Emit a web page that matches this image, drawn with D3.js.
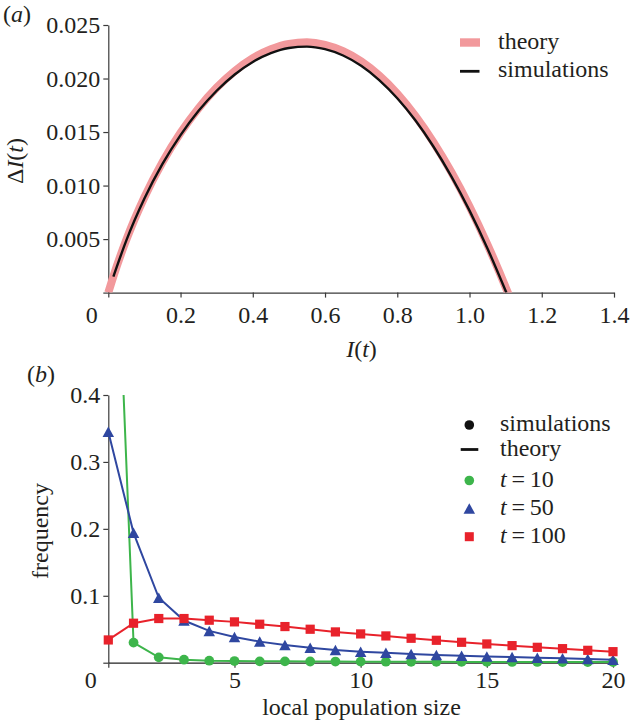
<!DOCTYPE html>
<html><head><meta charset="utf-8">
<script src="https://cdn.jsdelivr.net/npm/d3@7"></script>
<style>
body{margin:0;background:#fff}
svg{display:block}
text{font-family:"Liberation Serif","Times New Roman",serif;font-size:24px;fill:#231f20}
</style>
</head><body>
<svg id="chart" width="630" height="723"></svg>
<script>
// ---------- Panel (a) data ----------
const theoryI  = [0, 0.014, 0.05, 0.1, 0.15, 0.2, 0.25, 0.3, 0.35, 0.4, 0.45, 0.5, 0.55, 0.6, 0.65, 0.7, 0.75, 0.8, 0.85, 0.9, 0.95, 1.0, 1.05, 1.106, 1.12];
const theoryDI = [0, 0.00151, 0.00495, 0.00891, 0.01219, 0.01493, 0.01723, 0.01915, 0.02070, 0.02190, 0.02274, 0.02324, 0.02338, 0.02315, 0.02256, 0.02161, 0.02028, 0.01859, 0.01651, 0.01406, 0.01124, 0.00804, 0.00446, 0, -0.0012];
const simI  = [0.014, 0.05, 0.1, 0.15, 0.2, 0.25, 0.3, 0.35, 0.4, 0.45, 0.5, 0.55, 0.6, 0.65, 0.7, 0.75, 0.8, 0.85, 0.9, 0.95, 1.0, 1.05, 1.102];
const simDI = [0.00149, 0.00488, 0.00879, 0.01202, 0.01471, 0.01698, 0.01886, 0.02038, 0.02155, 0.02237, 0.02285, 0.02298, 0.02274, 0.02215, 0.02119, 0.01986, 0.01816, 0.01610, 0.01365, 0.01084, 0.00766, 0.00410, 0];
const aXTicks = [0, 0.2, 0.4, 0.6, 0.8, 1.0, 1.2, 1.4];
const aYTicks = [0.005, 0.010, 0.015, 0.020, 0.025];

// ---------- Panel (b) data ----------
const popSize   = [0, 1, 2, 3, 4, 5, 6, 7, 8, 9, 10, 11, 12, 13, 14, 15, 16, 17, 18, 19, 20];
const freqT10   = [0.97, 0.030, 0.008, 0.0045, 0.003, 0.0025, 0.002, 0.002, 0.0018, 0.0017, 0.0016, 0.0015, 0.0014, 0.0013, 0.0012, 0.0012, 0.0011, 0.0011, 0.001, 0.001, 0.001];
const freqT50   = [0.345, 0.194, 0.097, 0.063, 0.0475, 0.0385, 0.0315, 0.0265, 0.0225, 0.019, 0.0165, 0.0148, 0.013, 0.0115, 0.0104, 0.0094, 0.0084, 0.0074, 0.0065, 0.0056, 0.0045];
const freqT100  = [0.034, 0.059, 0.066, 0.066, 0.0635, 0.061, 0.0575, 0.054, 0.050, 0.046, 0.043, 0.040, 0.0365, 0.0335, 0.0305, 0.028, 0.0255, 0.023, 0.021, 0.0185, 0.0165];
const t10FirstSim = 1; // simulated t=10 markers start at size 1 (size 0 off-scale)
const bXTicks = [0, 5, 10, 15, 20];
const bYTicks = [0.1, 0.2, 0.3, 0.4];
const legendB = ["simulations", "theory", "10", "50", "100"];

const colPink = "#f2999c", colGreen = "#3db54b", colBlue = "#2f47a0", colRed = "#e8222b";
const axisCol = "#3a3a3a";

const svg = d3.select("#chart");

function styleAxis(g){
  g.attr("font-family", null).attr("font-size", null);
  g.select(".domain").attr("stroke", axisCol).attr("stroke-width", 1.2);
  g.selectAll(".tick line").attr("stroke", axisCol).attr("stroke-width", 1.2);
  g.selectAll(".tick text").attr("fill", "#231f20");
}

// ================= Panel (a) =================
const ax = d3.scaleLinear().domain([0, 1.4]).range([108.3, 614]);
const ay = d3.scaleLinear().domain([0, 0.025]).range([292.6, 25]);

svg.append("defs").append("clipPath").attr("id", "clipA")
  .append("rect").attr("x", 100).attr("y", 15).attr("width", 530).attr("height", ay(0) - 15);

const gAy = svg.append("g").attr("transform", `translate(${ax(0)},0)`)
  .call(d3.axisLeft(ay).tickValues([0].concat(aYTicks)).tickSize(5).tickSizeOuter(0)
        .tickFormat(d => d === 0 ? "" : d3.format(".3f")(d)));
styleAxis(gAy);

const gAx = svg.append("g").attr("transform", `translate(0,${ay(0)})`)
  .call(d3.axisBottom(ax).tickValues(aXTicks).tickSize(5).tickSizeOuter(0)
        .tickFormat(d => d === 0 ? "0" : d3.format(".1f")(d)));
styleAxis(gAx);
gAx.selectAll(".tick text").attr("dy", 0).attr("y", 30.4)
   .attr("dx", d => d === 0 ? -17 : 0);

const lineA = d3.line().curve(d3.curveMonotoneX);
svg.append("path").attr("clip-path", "url(#clipA)")
  .attr("d", lineA(theoryI.map((v, i) => [ax(v), ay(theoryDI[i])])))
  .attr("fill", "none").attr("stroke", colPink).attr("stroke-width", 8);
svg.append("path").attr("clip-path", "url(#clipA)")
  .attr("d", lineA(simI.map((v, i) => [ax(v), ay(simDI[i])])))
  .attr("fill", "none").attr("stroke", "#111").attr("stroke-width", 2.4);

// axis titles (a)
svg.append("text").attr("x", 361.5).attr("y", 357).attr("text-anchor", "middle")
  .html('<tspan font-style="italic">I</tspan>(<tspan font-style="italic">t</tspan>)');
svg.append("text").attr("transform", "translate(23,161) rotate(-90)").attr("text-anchor", "middle")
  .html('Δ<tspan font-style="italic">I</tspan>(<tspan font-style="italic">t</tspan>)');
svg.append("text").attr("x", 3).attr("y", 21.5)
  .html('(<tspan font-style="italic">a</tspan>)');

// legend (a)
svg.append("rect").attr("x", 460).attr("y", 38.3).attr("width", 20).attr("height", 8.4).attr("fill", colPink);
svg.append("text").attr("x", 498).attr("y", 49.3).text("theory");
svg.append("line").attr("x1", 460).attr("x2", 479.5).attr("y1", 71.3).attr("y2", 71.3)
  .attr("stroke", "#111").attr("stroke-width", 2.8);
svg.append("text").attr("x", 498).attr("y", 76.7).text("simulations");

// ================= Panel (b) =================
const bx = d3.scaleLinear().domain([0, 20]).range([108.3, 613]);
const by = d3.scaleLinear().domain([0, 0.4]).range([662.7, 395]);

svg.select("defs").append("clipPath").attr("id", "clipB")
  .append("rect").attr("x", 100).attr("y", by(0.4)).attr("width", 530).attr("height", 320);

const gBy = svg.append("g").attr("transform", `translate(${bx(0)},0)`)
  .call(d3.axisLeft(by).tickValues([0].concat(bYTicks)).tickSize(5).tickSizeOuter(0)
        .tickFormat(d => d === 0 ? "" : d3.format(".1f")(d)));
styleAxis(gBy);

const gBx = svg.append("g").attr("transform", `translate(0,${by(0)})`)
  .call(d3.axisBottom(bx).tickValues(bXTicks).tickSize(5).tickSizeOuter(0).tickFormat(d3.format("d")));
styleAxis(gBx);
gBx.select(".domain").attr("stroke", "#222");
gBx.selectAll(".tick text").attr("dy", 0).attr("y", 25.3)
   .attr("dx", d => d === 0 ? -18 : 0);

const lineB = d3.line();
function triPath(cx, cy, w, h){
  return `M${cx},${cy - h/2}L${cx + w/2},${cy + h/2}L${cx - w/2},${cy + h/2}Z`;
}

// t = 10 (green)
svg.append("path").attr("clip-path", "url(#clipB)")
  .attr("d", lineB(popSize.map((x, i) => [bx(x), by(freqT10[i])])))
  .attr("fill", "none").attr("stroke", colGreen).attr("stroke-width", 2);
svg.append("g").selectAll("circle").data(popSize.filter(x => x >= t10FirstSim)).join("circle")
  .attr("cx", x => bx(x)).attr("cy", x => by(freqT10[x])).attr("r", 4.9).attr("fill", colGreen);

// t = 50 (blue)
svg.append("path").attr("clip-path", "url(#clipB)")
  .attr("d", lineB(popSize.map((x, i) => [bx(x), by(freqT50[i])])))
  .attr("fill", "none").attr("stroke", colBlue).attr("stroke-width", 2);
svg.append("g").selectAll("path").data(popSize).join("path")
  .attr("d", x => triPath(bx(x), by(freqT50[x]), 11.5, 10.5)).attr("fill", colBlue);

// t = 100 (red)
svg.append("path").attr("clip-path", "url(#clipB)")
  .attr("d", lineB(popSize.map((x, i) => [bx(x), by(freqT100[i])])))
  .attr("fill", "none").attr("stroke", colRed).attr("stroke-width", 2);
svg.append("g").selectAll("rect").data(popSize).join("rect")
  .attr("x", x => bx(x) - 4.6).attr("y", x => by(freqT100[x]) - 4.6)
  .attr("width", 9.2).attr("height", 9.2).attr("fill", colRed);

// axis titles (b)
svg.append("text").attr("x", 361.5).attr("y", 715).attr("text-anchor", "middle").text("local population size");
svg.append("text").attr("transform", "translate(48,531) rotate(-90)").attr("text-anchor", "middle").text("frequency");
svg.append("text").attr("x", 27).attr("y", 381.5)
  .html('(<tspan font-style="italic">b</tspan>)');

// legend (b)
const lgX = 469.3, txX = 500;
svg.append("circle").attr("cx", lgX).attr("cy", 425).attr("r", 4.8).attr("fill", "#111");
svg.append("text").attr("x", txX).attr("y", 430.7).text(legendB[0]);
svg.append("line").attr("x1", 460.7).attr("x2", 478.3).attr("y1", 449.5).attr("y2", 449.5)
  .attr("stroke", "#111").attr("stroke-width", 2.8);
svg.append("text").attr("x", txX).attr("y", 455.5).text(legendB[1]);
svg.append("circle").attr("cx", lgX).attr("cy", 480.5).attr("r", 4.8).attr("fill", colGreen);
svg.append("text").attr("x", txX).attr("y", 487.3)
  .html(`<tspan font-style="italic">t</tspan>\u2009=\u2009${legendB[2]}`);
svg.append("path").attr("d", triPath(lgX, 508.5, 11.5, 10.5)).attr("fill", colBlue);
svg.append("text").attr("x", txX).attr("y", 515)
  .html(`<tspan font-style="italic">t</tspan>\u2009=\u2009${legendB[3]}`);
svg.append("rect").attr("x", lgX - 4.5).attr("y", 536.7 - 4.5).attr("width", 9).attr("height", 9).attr("fill", colRed);
svg.append("text").attr("x", txX).attr("y", 542.7)
  .html(`<tspan font-style="italic">t</tspan>\u2009=\u2009${legendB[4]}`);
</script>
</body></html>
